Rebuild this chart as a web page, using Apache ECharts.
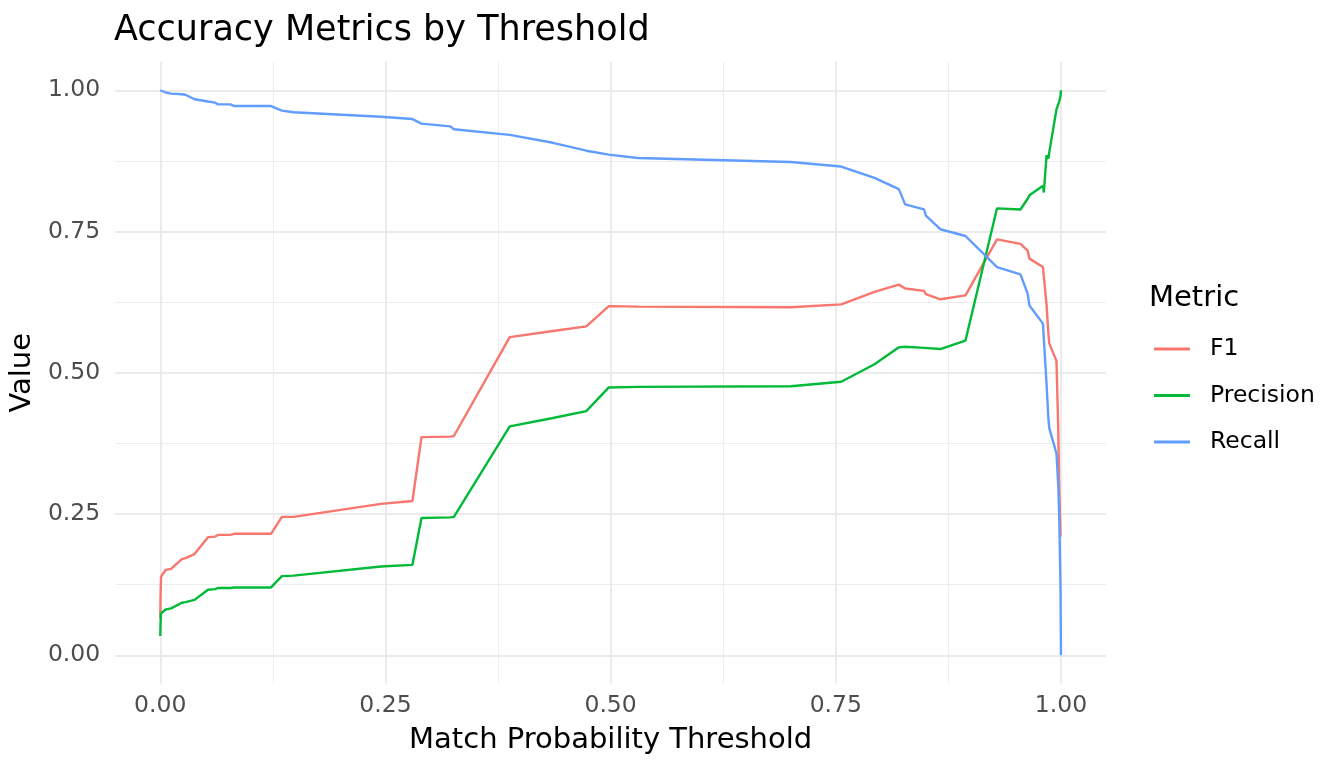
<!DOCTYPE html>
<html lang="en">

<head>
    <meta charset="UTF-8" />
    <title>Accuracy Metrics by Threshold</title>
    <script src="https://cdn.jsdelivr.net/npm/echarts@6/dist/echarts.min.js"></script>
</head>
<style>
    * {
        margin: 0;
        padding: 0;
    }

    #main {
        width: 1344px;
        height: 768px;
        background: #fff;
    }
</style>

<body>
    <div id="main"></div>
</body>
<script>
    // thresholds shared by all three metrics
    const thresholds = [
        0.0, 0.0003, 0.0008, 0.002, 0.006, 0.012, 0.024, 0.028, 0.038, 0.053,
        0.061, 0.064, 0.078, 0.082, 0.123, 0.135, 0.148, 0.245, 0.28, 0.29,
        0.322, 0.326, 0.388, 0.436, 0.473, 0.498, 0.53, 0.7, 0.756, 0.793,
        0.82, 0.827, 0.848, 0.85, 0.866, 0.894, 0.929, 0.955, 0.963, 0.965,
        0.98, 0.981, 0.984, 0.986, 0.987, 0.995, 0.997, 0.998, 0.9995, 1.0
    ];
    const f1 = [
        0.065, 0.1, 0.138, 0.142, 0.151, 0.153, 0.17, 0.172, 0.179, 0.209,
        0.21, 0.213, 0.213, 0.215, 0.215, 0.245, 0.245, 0.268, 0.273, 0.386,
        0.387, 0.388, 0.563, 0.574, 0.582, 0.618, 0.617, 0.616, 0.621, 0.643,
        0.656, 0.649, 0.645, 0.639, 0.63, 0.637, 0.736, 0.728, 0.716, 0.702,
        0.687, 0.67, 0.62, 0.57, 0.552, 0.521, 0.4, 0.3, 0.21, null
    ];
    const precision = [
        0.034, 0.055, 0.074, 0.076, 0.081, 0.083, 0.093, 0.094, 0.098, 0.116,
        0.117, 0.119, 0.119, 0.12, 0.12, 0.14, 0.141, 0.157, 0.16, 0.243,
        0.244, 0.245, 0.405, 0.42, 0.432, 0.474, 0.475, 0.476, 0.484, 0.515,
        0.545, 0.546, 0.544, 0.542, 0.542, 0.557, 0.791, 0.789, 0.808, 0.814,
        0.831, 0.819, 0.885, 0.879, 0.89, 0.966, 0.968, 0.98, 0.99, 1.0
    ];
    const recall = [
        1.0, 1.0, 0.999, 0.998, 0.996, 0.994, 0.993, 0.992, 0.984, 0.98,
        0.978, 0.975, 0.975, 0.972, 0.972, 0.964, 0.961, 0.953, 0.949, 0.941,
        0.936, 0.931, 0.921, 0.907, 0.893, 0.886, 0.88, 0.873, 0.865, 0.845,
        0.825, 0.798, 0.789, 0.778, 0.754, 0.742, 0.687, 0.674, 0.64, 0.619,
        0.587, 0.56, 0.48, 0.42, 0.402, 0.357, 0.3, 0.251, 0.12, 0.0
    ];
    const metricNames = ["F1", "Precision", "Recall"];
    const metricColors = ["#F8766D", "#00BA38", "#619CFF"];
    const majorTicks = [0, 0.25, 0.5, 0.75, 1];
    const minorTicks = [0.125, 0.375, 0.625, 0.875];

    const font = "DejaVu Sans";

    function pairs(values) {
        return thresholds.map((t, i) => [t, values[i]]);
    }

    // one axis for labels + major grid, one hidden axis for the minor grid
    function makeAxes(isX) {
        let major = {
            type: "value",
            min: -0.05,
            max: 1.05,
            axisLine: { show: false },
            axisTick: { show: false, customValues: majorTicks },
            axisLabel: {
                customValues: majorTicks,
                formatter: (v) => v.toFixed(2),
                color: "#4D4D4D",
                fontSize: 23.5,
                fontFamily: font,
                margin: isX ? 10 : 15,
            },
            splitLine: { show: true, lineStyle: { color: "#EBEBEB", width: 2 } },
            name: isX ? "Match Probability Threshold" : "Value",
            nameLocation: "middle",
            nameGap: isX ? 42 : 71,
            nameTextStyle: { color: "#000", fontSize: 29, fontFamily: font },
            z: 1,
        };
        let minor = {
            type: "value",
            min: -0.05,
            max: 1.05,
            axisLine: { show: false },
            axisTick: { show: false, customValues: minorTicks },
            axisLabel: { show: false, customValues: minorTicks },
            splitLine: { show: true, lineStyle: { color: "#EDEDED", width: 1.1 } },
            z: 0,
        };
        return [major, minor];
    }

    var myChart = echarts.init(document.getElementById("main"));
    var option = {
        animation: false,
        backgroundColor: "#fff",
        title: [
            {
                text: "Accuracy Metrics by Threshold",
                left: 114,
                top: 13,
                padding: 0,
                textStyle: { color: "#000", fontSize: 35, fontWeight: "normal", fontFamily: font },
            },
            {
                text: "Metric",
                left: 1149,
                top: 284,
                padding: 0,
                textStyle: { color: "#000", fontSize: 29, fontWeight: "normal", fontFamily: font },
            },
        ],
        legend: {
            data: metricNames,
            orient: "vertical",
            left: 1154,
            top: 337,
            padding: 0,
            icon: "rect",
            itemWidth: 36,
            itemHeight: 3,
            itemGap: 22.5,
            selectedMode: false,
            textStyle: { color: "#000", fontSize: 23.5, fontFamily: font, padding: [0, 0, 0, 15] },
        },
        grid: { left: 114, right: 238, top: 62, bottom: 84.5, containLabel: false },
        xAxis: makeAxes(true),
        yAxis: makeAxes(false),
        series: [f1, precision, recall].map((vals, i) => ({
            name: metricNames[i],
            type: "line",
            data: pairs(vals),
            showSymbol: false,
            symbol: "none",
            color: metricColors[i],
            lineStyle: { color: metricColors[i], width: 2.4 },
            xAxisIndex: 0,
            yAxisIndex: 0,
            z: 3 + i,
        })),
    };
    option && myChart.setOption(option);
</script>

</html>
